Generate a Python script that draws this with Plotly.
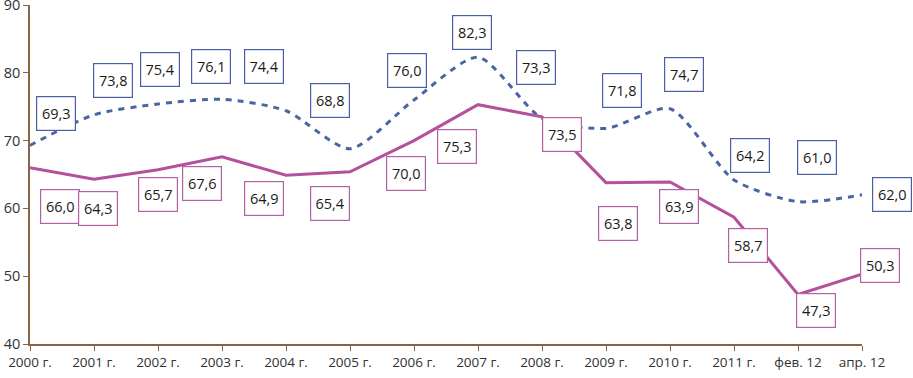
import plotly.graph_objects as go

categories = ["2000 г.", "2001 г.", "2002 г.", "2003 г.", "2004 г.", "2005 г.", "2006 г.",
              "2007 г.", "2008 г.", "2009 г.", "2010 г.", "2011 г.", "фев. 12", "апр. 12"]
pink_values = [66.0, 64.3, 65.7, 67.6, 64.9, 65.4, 70.0, 75.3, 73.5, 63.8, 63.9, 58.7, 47.3, 50.3]
blue_values = [69.3, 73.8, 75.4, 76.1, 74.4, 68.8, 76.0, 82.3, 73.3, 71.8, 74.7, 64.2, 61.0, 62.0]
y_ticks = [40, 50, 60, 70, 80, 90]

# label offsets in pixels (x right, y up) relative to each point
pink_dx = [29.5, 3.5, -0.5, -20.5, -21.5, -20, -7.5, -21, 19.5, 11.5, 9, 13.5, 18.5, 18.5]
pink_dy = [-39, -29, -25, -27, -22.6, -32, -32.6, -42, -17.8, -41, -24.8, -28, -16.4, 9.3]
blue_dx = [26.5, 19, 2.5, -11, -21.5, -19.5, -7, -5.5, -5.5, 16.5, 14.5, 16.5, 19, 30.5]
blue_dy = [32, 33.7, 33.8, 33, 43.6, 47.5, 29.3, 24.6, 50.6, 37.7, 33.6, 24.2, 43.8, 0]

PINK = "#B4509C"
BLUE = "#4866A2"
PINK_BOX = "#B461A4"
BLUE_BOX = "#4A5FA6"
AXIS = "#8A6444"
FONT = "Open Sans"

fig = go.Figure()
fig.add_trace(go.Scatter(x=categories, y=blue_values, mode="lines",
                         line=dict(color=BLUE, width=3, dash="6px,6px", shape="spline", smoothing=0.7),
                         hoverinfo="skip"))
fig.add_trace(go.Scatter(x=categories, y=pink_values, mode="lines",
                         line=dict(color=PINK, width=3), hoverinfo="skip"))

def fmt(v):
    return f"{v:.1f}".replace(".", ",")

for vals, dxs, dys, col in [(pink_values, pink_dx, pink_dy, PINK_BOX),
                            (blue_values, blue_dx, blue_dy, BLUE_BOX)]:
    for c, v, dx, dy in zip(categories, vals, dxs, dys):
        fig.add_annotation(x=c, y=v, text=fmt(v), showarrow=False,
                           xshift=round(dx), yshift=round(dy), width=38, height=33,
                           bgcolor="white", bordercolor=col, borderwidth=1.2, borderpad=0,
                           font=dict(family=FONT, size=14.5, color="#1a1a1a"))

fig.update_layout(
    width=913, height=378,
    margin=dict(l=30, r=51, t=5, b=34),
    paper_bgcolor="white", plot_bgcolor="white",
    showlegend=False,
    font=dict(family=FONT, size=14, color="#333333"),
)
fig.update_xaxes(type="category", range=[0, len(categories) - 1], automargin=False,
                 showline=True, linecolor=AXIS, linewidth=1.5,
                 ticks="outside", ticklen=5, tickcolor=AXIS, showgrid=False,
                 ticklabeloverflow="allow",
                 tickfont=dict(family=FONT, size=13.5, color="#333333"))
fig.update_yaxes(range=[40, 90], tickvals=y_ticks, automargin=False,
                 showline=True, linecolor=AXIS, linewidth=1.5,
                 ticks="outside", ticklen=5, tickcolor=AXIS, showgrid=False, zeroline=False,
                 ticklabeloverflow="allow",
                 tickfont=dict(family=FONT, size=14.5, color="#333333"))

fig.write_html("out.html", config={"displayModeBar": False},
               post_script="document.body.style.margin='0';document.body.style.overflow='hidden';")
